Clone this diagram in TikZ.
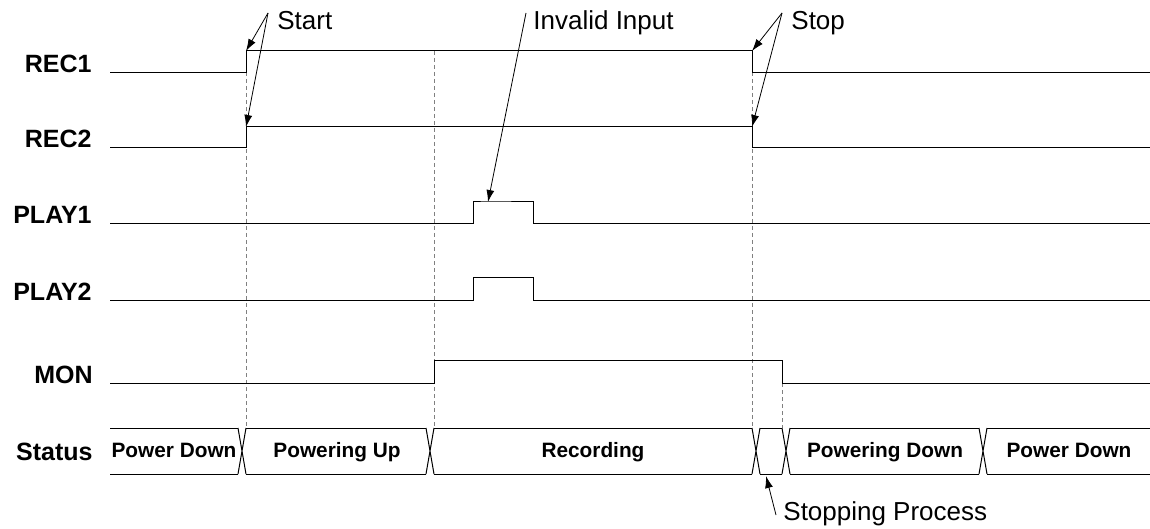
\documentclass[tikz,border=0pt]{standalone}
\usepackage{fontspec}
\setmainfont{Liberation Sans}
\usetikzlibrary{arrows.meta, positioning, calc}

\tikzset{
  sig/.style={line width=0.5pt},
  guide/.style={gray, line width=0.5pt, dash pattern=on 2pt off 1.5pt},
  signame/.style={font=\fontsize{12.5}{14}\selectfont\bfseries, anchor=base east, inner sep=0pt},
  busname/.style={font=\fontsize{10.4}{12}\selectfont\bfseries, anchor=base, inner sep=0pt},
  note/.style={font=\fontsize{13}{15}\selectfont, anchor=base west, inner sep=0pt},
  pointer/.style={-{Latex[length=6pt,width=4pt]}, line width=0.4pt},
}

\begin{document}
\begin{tikzpicture}[x=0.5pt, y=-0.5pt]
  \useasboundingbox (0,0) rectangle (1150,529);

  % dotted guides
  \foreach \gx in {246,434,752}
    \draw[guide] (\gx,51) -- (\gx,428);
  \draw[guide] (782,383) -- (782,428);

  % signal names
  \node[signame] (rec1)  at (92,73)  {REC1};
  \node[signame] (rec2)  at (92,148) {REC2};
  \node[signame] (play1) at (92,224) {PLAY1};
  \node[signame] (play2) at (92,300) {PLAY2};
  \node[signame] (mon)   at (93,383) {MON};
  \node[signame] (status) at (93,460) {Status};

  % waveforms
  \draw[sig] (110,73) -- (246,73) -- (246,51) coordinate (rec1 up)
    -- (752,51) coordinate (rec1 down) -- (752,73) -- (1150,73);
  \draw[sig] (110,148) -- (246,148) -- (246,127) coordinate (rec2 up)
    -- (752,127) coordinate (rec2 down) -- (752,148) -- (1150,148);
  \draw[sig] (110,224) -- (473,224) -- (473,202) -- (488,202) coordinate (play1 pulse)
    -- (533,202) -- (533,224) -- (1150,224);
  \draw[sig] (110,300) -- (473,300) -- (473,277) -- (533,277) -- (533,300) -- (1150,300);
  \draw[sig] (110,383) -- (434,383) -- (434,360) -- (782,360) -- (782,383) -- (1150,383);

  % status bus
  \foreach \a/\b in {110/238, 246/426, 434/752, 760/782, 790/979, 987/1150}{
    \draw[sig] (\a,428) -- (\b,428);
    \draw[sig] (\a,474) -- (\b,474);
  }
  \foreach \t in {238,426,752,782,979}
    \draw[sig] (\t,428) -- (\t+8,474) (\t,474) -- (\t+8,428);
  \coordinate (stop bus) at (766,476);

  \node[busname] (pdown1) at (174,457)  {Power Down};
  \node[busname] (pup)    at (337,457)  {Powering Up};
  \node[busname] (recd)   at (593,457)  {Recording};
  \node[busname] (pingd)  at (885,457)  {Powering Down};
  \node[busname] (pdown2) at (1069,457) {Power Down};

  % notes
  \node[note] (start) at (277,30) {Start};
  \node[note] (inval) at (533,30) {Invalid Input};
  \node[note] (stop)  at (791,30) {Stop};
  \node[note] (stopping) at (783,520) {Stopping Process};

  \coordinate (start tail) at (268,13);
  \coordinate (inval tail) at (526,13);
  \coordinate (stop tail)  at (782,13);
  \coordinate (stopping tail) at (776,515);

  \draw[pointer] (start tail) -- (rec1 up);
  \draw[pointer] (start tail) -- (rec2 up);
  \draw[pointer] (inval tail) -- (play1 pulse);
  \draw[pointer] (stop tail) -- (rec1 down);
  \draw[pointer] (stop tail) -- (rec2 down);
  \draw[pointer] (stopping tail) -- (stop bus);
\end{tikzpicture}
\end{document}
